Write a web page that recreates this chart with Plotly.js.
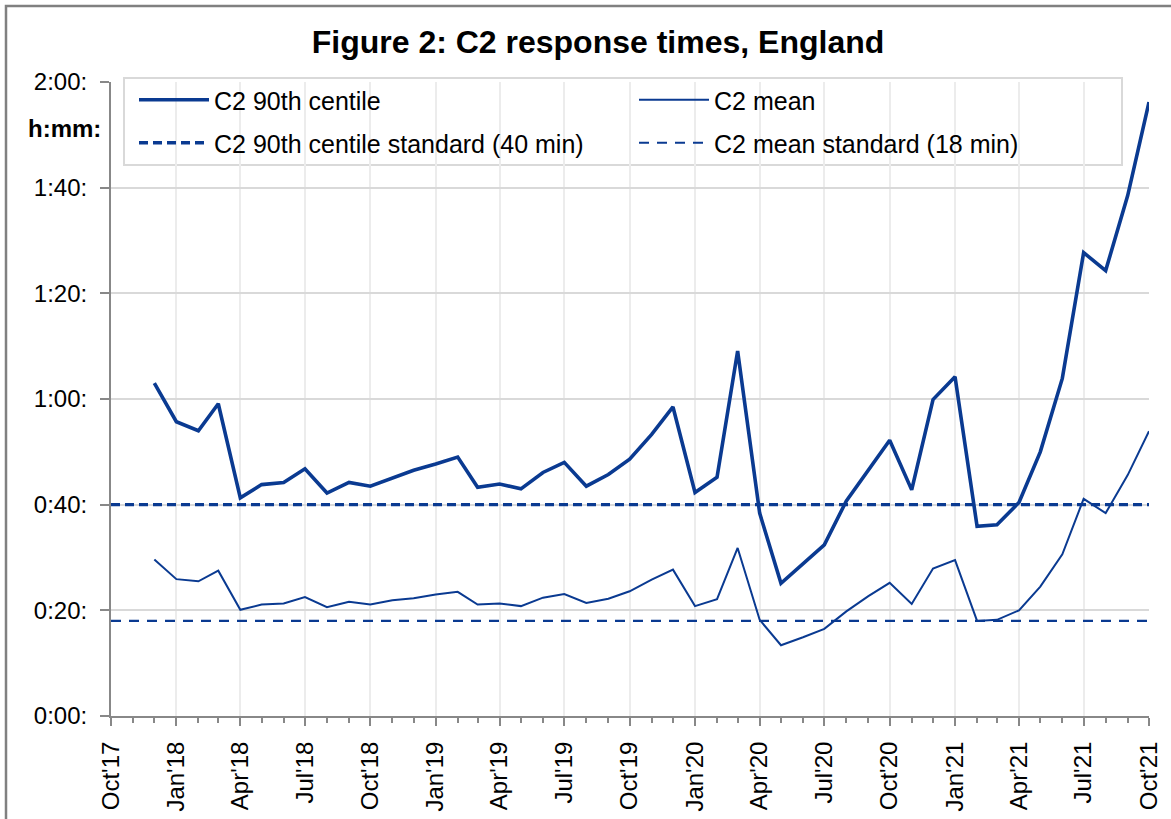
<!DOCTYPE html>
<html>
<head>
<meta charset="utf-8">
<script src="https://cdn.plot.ly/plotly-3.0.1.min.js"></script>
<style>html,body{margin:0;padding:0;background:#fff;}#chart{width:1171px;height:819px;}</style>
</head>
<body>
<div id="chart"></div>
<script>
// Months (Dec 2017 – Oct 2021)
const months = [
  "2017-12-01",
  "2018-01-01","2018-02-01","2018-03-01","2018-04-01","2018-05-01","2018-06-01",
  "2018-07-01","2018-08-01","2018-09-01","2018-10-01","2018-11-01","2018-12-01",
  "2019-01-01","2019-02-01","2019-03-01","2019-04-01","2019-05-01","2019-06-01",
  "2019-07-01","2019-08-01","2019-09-01","2019-10-01","2019-11-01","2019-12-01",
  "2020-01-01","2020-02-01","2020-03-01","2020-04-01","2020-05-01","2020-06-01",
  "2020-07-01","2020-08-01","2020-09-01","2020-10-01","2020-11-01","2020-12-01",
  "2021-01-01","2021-02-01","2021-03-01","2021-04-01","2021-05-01","2021-06-01",
  "2021-07-01","2021-08-01","2021-09-01","2021-10-01"
];
// C2 90th centile, minutes
const c2p90 = [
  63.0,
  55.7,54.0,59.1,41.3,43.8,44.2,46.8,42.2,44.2,43.5,45.0,46.5,
  47.7,49.0,43.3,43.9,43.0,46.1,48.0,43.5,45.7,48.6,53.3,58.5,
  42.3,45.2,69.1,38.4,25.1,28.8,32.4,40.7,46.5,52.2,42.8,59.9,
  64.2,35.9,36.2,40.4,50.0,63.9,87.7,84.3,98.5,116.2
];
// C2 mean, minutes
const c2mean = [
  29.6,
  25.9,25.5,27.5,20.1,21.1,21.3,22.5,20.6,21.6,21.1,21.9,22.3,
  23.0,23.5,21.1,21.3,20.8,22.4,23.1,21.4,22.2,23.6,25.8,27.7,
  20.8,22.1,31.8,18.2,13.4,14.9,16.5,19.8,22.7,25.2,21.2,27.9,
  29.5,18.0,18.2,20.0,24.5,30.6,41.1,38.4,45.6,53.9
];
// Standards, minutes
const p90Standard = 40;
const meanStandard = 18;

// Axis ticks
const xTickDates = [
  "2017-10-01","2018-01-01","2018-04-01","2018-07-01","2018-10-01",
  "2019-01-01","2019-04-01","2019-07-01","2019-10-01",
  "2020-01-01","2020-04-01","2020-07-01","2020-10-01",
  "2021-01-01","2021-04-01","2021-07-01","2021-10-01"
];
const xTickLabels = [
  "Oct'17","Jan'18","Apr'18","Jul'18","Oct'18",
  "Jan'19","Apr'19","Jul'19","Oct'19",
  "Jan'20","Apr'20","Jul'20","Oct'20",
  "Jan'21","Apr'21","Jul'21","Oct'21"
];
const yTickVals = [0, 20, 40, 60, 80, 100, 120];
const yTickLabels = ["0:00:", "0:20:", "0:40:", "1:00:", "1:20:", "1:40:", "2:00:"];

const BLUE = "#0a3a91";
const FONT = "Liberation Sans, Arial, sans-serif";
const xStart = xTickDates[0], xEnd = xTickDates[xTickDates.length - 1];

const traces = [
  {x: months, y: c2p90, type: "scatter", mode: "lines", name: "C2 90th centile",
   line: {color: BLUE, width: 3.6}, legend: "legend"},
  {x: months, y: c2mean, type: "scatter", mode: "lines", name: "C2 mean",
   line: {color: BLUE, width: 2}, legend: "legend2"},
  {x: [xStart, xEnd], y: [p90Standard, p90Standard], type: "scatter", mode: "lines",
   name: "C2 90th centile standard (40 min)",
   line: {color: BLUE, width: 3.4, dash: "9px,5px"}, legend: "legend3"},
  {x: [xStart, xEnd], y: [meanStandard, meanStandard], type: "scatter", mode: "lines",
   name: "C2 mean standard (18 min)",
   line: {color: BLUE, width: 2.2, dash: "10px,8px"}, legend: "legend4"}
];

const L = 111, R = 1149, T = 82, B = 716;
const W = R - L, H = B - T;
const px = v => (v - L) / W;
const py = v => (B - v) / H;

const legendCommon = {
  orientation: "h",
  bgcolor: "rgba(0,0,0,0)", borderwidth: 0, itemwidth: 70,
  font: {family: FONT, size: 25, color: "#000"},
  xanchor: "left", yanchor: "middle"
};

const layout = {
  width: 1171, height: 819, autosize: false,
  paper_bgcolor: "#fff", plot_bgcolor: "#fff",
  margin: {l: L, r: 1171 - R, t: T, b: 819 - B, pad: 0},
  font: {family: FONT, color: "#000", size: 24},
  title: {
    text: "<b>Figure 2: C2 response times, England</b>",
    font: {family: FONT, size: 32, color: "#000"},
    xref: "container", yref: "container",
    x: 598 / 1171, xanchor: "center", y: 1 - 42 / 819, yanchor: "middle"
  },
  showlegend: true,
  legend:  Object.assign({}, legendCommon, {x: px(134), y: py(100)}),
  legend2: Object.assign({}, legendCommon, {x: px(634), y: py(100)}),
  legend3: Object.assign({}, legendCommon, {x: px(134), y: py(143)}),
  legend4: Object.assign({}, legendCommon, {x: px(634), y: py(143)}),
  xaxis: {
    type: "date", range: [xStart, xEnd],
    tickmode: "array", tickvals: xTickDates, ticktext: xTickLabels,
    tickangle: -90, ticks: "outside", ticklen: 8, tickwidth: 2, tickcolor: "#888",
    ticklabelstandoff: 6,
    tickfont: {family: FONT, size: 24, color: "#000"},
    showgrid: true, gridcolor: "#ececec", gridwidth: 2,
    showline: true, linecolor: "#888", linewidth: 2,
    zeroline: false, fixedrange: true,
    minor: {dtick: "M1", tick0: "2017-10-01", ticks: "outside", ticklen: 5,
            tickwidth: 2, tickcolor: "#888", showgrid: false}
  },
  yaxis: {
    range: [0, 120], tickmode: "array", tickvals: yTickVals, ticktext: yTickLabels,
    ticks: "outside", ticklen: 9, tickwidth: 2, tickcolor: "#888",
    ticklabelstandoff: 8,
    tickfont: {family: FONT, size: 24, color: "#000"},
    showgrid: true, gridcolor: "#d9d9d9", gridwidth: 2,
    showline: true, linecolor: "#888", linewidth: 2,
    zeroline: false, fixedrange: true
  },
  shapes: [
    // legend box
    {type: "rect", xref: "paper", yref: "paper", layer: "between",
     x0: px(124), x1: px(1122), y0: py(165), y1: py(78),
     fillcolor: "#fff", line: {color: "#d9d9d9", width: 2}},
    // outer chart frame (top and left visible)
    {type: "rect", xref: "paper", yref: "paper", layer: "above",
     x0: px(6), x1: px(1190), y0: py(840), y1: py(6),
     fillcolor: "rgba(0,0,0,0)", line: {color: "#808080", width: 2.5}}
  ],
  annotations: [
    {text: "<b>h:mm:</b>", xref: "paper", yref: "paper", x: px(64), y: py(128),
     xanchor: "center", yanchor: "middle", showarrow: false,
     font: {family: FONT, size: 24, color: "#000"}}
  ]
};

Plotly.newPlot("chart", traces, layout, {displayModeBar: false, staticPlot: true});
</script>
</body>
</html>
